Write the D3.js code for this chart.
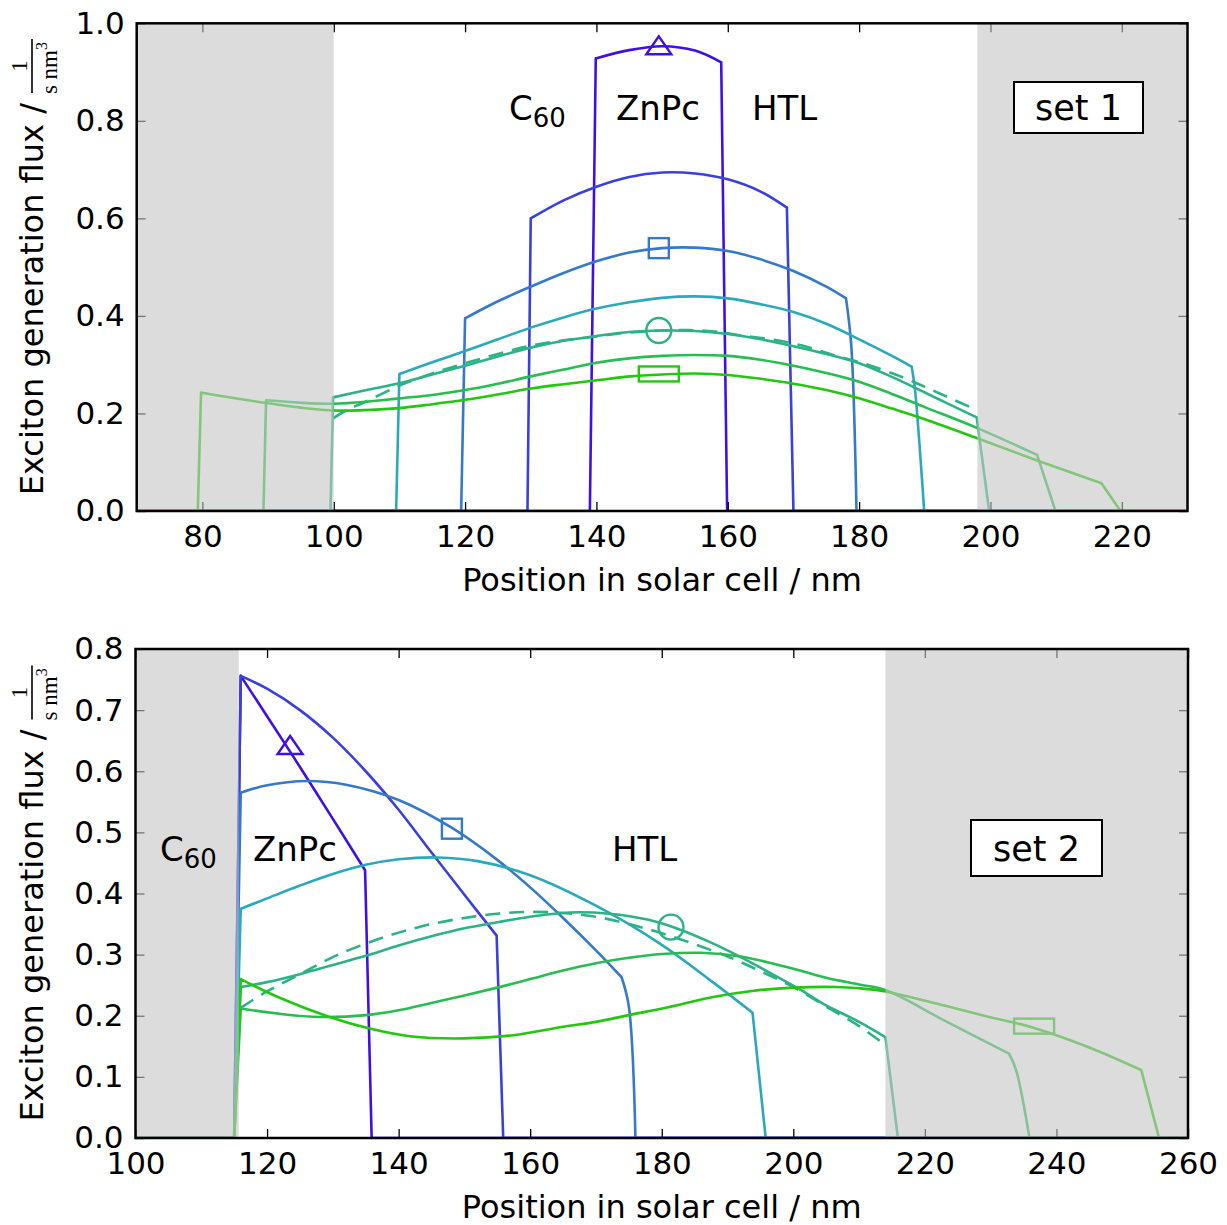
<!DOCTYPE html>
<html>
<head>
<meta charset="utf-8">
<script src="https://cdn.jsdelivr.net/npm/d3@7"></script>
<style>
  body { margin: 0; background: #fff; }
  svg { display: block; }
  text { font-family: "DejaVu Sans", sans-serif; }
</style>
</head>
<body>
<svg id="chart" width="1227" height="1225"></svg>
<script>
// ---- data: [position nm, flux] ----
const lineColors = ['#3f10e6', '#3a40da', '#3579c9', '#2aa9bb', '#2bb386', '#27bd50', '#22c70e'];

const set1Curve1 = [[70,0],[139,0],[139.9,0.928],[145,0.945],[150,0.953],[155,0.944],[159,0.92],[159.9,0],[230,0]];
const set1Curve2 = [[70,0],[129.5,0],[130,0.60],[135,0.637],[140,0.665],[145,0.685],[150,0.694],[155,0.692],[160,0.68],[165,0.655],[169,0.622],[170,0],[230,0]];
const set1Curve3 = [[70,0],[119.4,0],[120,0.395],[125,0.43],[130,0.46],[135,0.488],[140,0.512],[145,0.53],[150,0.539],[155,0.54],[160,0.533],[165,0.516],[170,0.492],[175,0.46],[178,0.436],[178.8,0.34],[179.6,0],[230,0]];
const set1Curve4 = [[70,0],[109.5,0],[110,0.281],[115,0.305],[120,0.328],[125,0.352],[130,0.376],[135,0.397],[140,0.415],[145,0.428],[150,0.437],[155,0.44],[160,0.436],[165,0.424],[170,0.408],[175,0.384],[180,0.352],[185,0.318],[188,0.296],[188.5,0.25],[189.9,0],[230,0]];
const set1Curve5 = [[70,0],[99.5,0],[99.9,0.233],[105,0.248],[110,0.262],[115,0.28],[120,0.298],[125,0.317],[130,0.335],[135,0.349],[140,0.359],[145,0.367],[150,0.37],[155,0.369],[160,0.363],[165,0.352],[170,0.338],[175,0.322],[180,0.303],[185,0.275],[190,0.243],[194,0.217],[197.9,0.192],[199.8,0],[230,0]];
const set1Dashed = [[99.9,0.19],[102,0.207],[104.5,0.222],[110,0.257],[115,0.282],[120,0.303],[125,0.322],[130,0.339],[135,0.35],[140,0.358],[145,0.366],[150,0.37],[154,0.371],[158,0.368],[162,0.36],[167,0.351],[172,0.337],[176,0.32],[180.6,0.303],[186.5,0.275],[191.1,0.248],[195.6,0.221],[198,0.207]];
const set1Curve6 = [[70,0],[89.3,0],[89.7,0.227],[95,0.222],[100,0.22],[105,0.224],[110,0.231],[115,0.238],[120,0.248],[125,0.261],[130,0.276],[135,0.29],[140,0.304],[145,0.313],[150,0.318],[155,0.32],[160,0.318],[165,0.31],[170,0.298],[175,0.283],[180,0.265],[185,0.24],[190,0.213],[198,0.17],[207.1,0.115],[209.9,0],[230,0]];
const set1Curve7 = [[70,0],[79.3,0],[79.8,0.243],[85,0.231],[90,0.221],[95,0.212],[100,0.206],[105,0.207],[110,0.211],[115,0.219],[120,0.228],[125,0.239],[130,0.251],[135,0.26],[140,0.268],[145,0.276],[150,0.28],[155,0.282],[160,0.279],[165,0.271],[170,0.261],[175,0.248],[180,0.231],[185,0.21],[190,0.188],[198,0.149],[207,0.104],[216.9,0.057],[219.8,0],[230,0]];

const set2Curve1 = [[100,0],[115,0],[116,0.756],[120,0.69],[125,0.607],[130,0.522],[134.9,0.438],[135.9,0],[260,0]];
const set2Curve2 = [[100,0],[115,0],[116,0.756],[120,0.735],[125,0.70],[130,0.655],[135,0.60],[140,0.537],[145,0.467],[150,0.398],[154.9,0.331],[155.9,0],[260,0]];
const set2Curve3 = [[100,0],[115,0],[116,0.565],[120,0.577],[126,0.584],[132,0.578],[140,0.553],[148,0.508],[155,0.455],[160,0.41],[165,0.36],[170,0.307],[173.9,0.263],[175,0.215],[176,0],[260,0]];
const set2Curve4 = [[100,0],[115,0],[116,0.375],[120,0.392],[125,0.413],[130,0.432],[135,0.447],[140,0.456],[146,0.459],[152,0.453],[160,0.43],[170,0.38],[180,0.316],[188,0.253],[193.8,0.205],[195.8,0],[260,0]];
const set2Curve5 = [[100,0],[115,0],[116,0.247],[120,0.255],[125,0.268],[130,0.283],[135,0.298],[140,0.315],[145,0.33],[150,0.343],[155,0.353],[160,0.362],[166,0.369],[172,0.367],[178,0.357],[182,0.344],[187,0.322],[192,0.296],[197,0.267],[201,0.243],[205,0.217],[210,0.19],[214,0.165],[215.9,0],[260,0]];
const set2Dashed = [[116,0.213],[120,0.24],[125,0.268],[130,0.296],[135,0.318],[140,0.336],[145,0.35],[150,0.36],[155,0.367],[160,0.37],[165,0.368],[170,0.362],[175,0.35],[180,0.335],[185,0.317],[190,0.297],[195,0.273],[200,0.247],[205,0.215],[210,0.183],[214,0.152]];
const set2Curve6 = [[100,0],[115,0],[116,0.212],[122,0.203],[128,0.198],[135,0.201],[140,0.209],[145,0.221],[150,0.233],[155,0.246],[160,0.26],[165,0.274],[170,0.286],[175,0.295],[180,0.301],[186,0.303],[192,0.297],[197,0.285],[201,0.274],[205,0.262],[210,0.251],[214,0.242],[223,0.192],[232.8,0.138],[233.9,0.11],[235.9,0],[260,0]];
const set2Curve7 = [[100,0],[115,0],[116,0.26],[122,0.229],[129.5,0.198],[135.6,0.179],[142,0.166],[150,0.163],[157.4,0.168],[165,0.182],[170,0.19],[175,0.201],[181,0.214],[188,0.231],[194,0.241],[200,0.246],[206.6,0.247],[210,0.245],[213.8,0.24],[222.8,0.217],[229,0.2],[236.6,0.18],[245,0.148],[252.9,0.111],[255.6,0],[260,0]];

// markers: [x, y, shape, colour index]
const set1Markers = [[149.5,0.955,'triangle',0],[149.5,0.539,'square',2],[149.5,0.37,'circle',4],[149.5,0.281,'rect',6]];
const set2Markers = [[123.5,0.643,'triangle',0],[148.1,0.506,'square',2],[181.4,0.345,'circle',4],[236.6,0.183,'rect',6]];

// shaded layers (outside the simulated stack)
const set1Shaded = [[70,100],[198,230]];
const set2Shaded = [[100,115.7],[214,260]];

const set1XTicks = [80,100,120,140,160,180,200,220];
const set1YTicks = [0,0.2,0.4,0.6,0.8,1.0];
const set2XTicks = [100,120,140,160,180,200,220,240,260];
const set2YTicks = [0,0.1,0.2,0.3,0.4,0.5,0.6,0.7,0.8];

const layerNames = ['C', 'ZnPc', 'HTL'];

const svg = d3.select('#chart');
const FONT = '"DejaVu Sans", sans-serif';

// split a series at sharp corners so jumps stay straight and the rest stays smooth
function splitAtCorners(pts, x, y) {
  const px = pts.map(d => [x(d[0]), y(d[1])]);
  const runs = [];
  let run = [pts[0]];
  for (let i = 1; i < pts.length; i++) {
    run.push(pts[i]);
    if (i < pts.length - 1) {
      const a1 = Math.atan2(px[i][1] - px[i - 1][1], px[i][0] - px[i - 1][0]);
      const a2 = Math.atan2(px[i + 1][1] - px[i][1], px[i + 1][0] - px[i][0]);
      let diff = Math.abs(a2 - a1) * 180 / Math.PI;
      if (diff > 180) diff = 360 - diff;
      if (diff > 25) {
        runs.push(run);
        run = [pts[i]];
      }
    }
  }
  runs.push(run);
  return runs;
}

function drawMarker(g, shape, cx, cy, color) {
  const common = s => s.attr('fill', 'none').attr('stroke', color).attr('stroke-width', 2.4);
  if (shape === 'triangle') {
    g.append('path').attr('d', `M${cx},${cy - 9}L${cx - 12.5},${cy + 9}L${cx + 12.5},${cy + 9}Z`).call(common);
  } else if (shape === 'square') {
    g.append('rect').attr('x', cx - 10).attr('y', cy - 10).attr('width', 20).attr('height', 20).call(common);
  } else if (shape === 'circle') {
    g.append('circle').attr('cx', cx).attr('cy', cy).attr('r', 12.5).call(common);
  } else {
    g.append('rect').attr('x', cx - 20).attr('y', cy - 7.5).attr('width', 40).attr('height', 15).call(common);
  }
}

function yLabel(cx, cy) {
  const g = svg.append('g').attr('transform', `translate(${cx},${cy}) rotate(-90)`);
  const main = g.append('text').attr('font-size', 32).attr('y', 10).text('Exciton generation flux /');
  const mainLen = main.node().getComputedTextLength();
  const fracW = 54, gap = 10;
  const x0 = -(mainLen + gap + fracW) / 2;
  main.attr('x', x0);
  const fx = x0 + mainLen + gap;
  g.append('line').attr('x1', fx).attr('x2', fx + fracW).attr('y1', -1).attr('y2', -1)
    .attr('stroke', '#000').attr('stroke-width', 1.6);
  g.append('text').attr('x', fx + fracW / 2).attr('y', -6).attr('text-anchor', 'middle')
    .style('font-family', '"Liberation Serif", serif').attr('font-size', 23).text('1');
  const den = g.append('text').attr('x', fx + fracW / 2 - 2).attr('y', 24).attr('text-anchor', 'middle')
    .style('font-family', '"Liberation Serif", serif').attr('font-size', 23);
  den.append('tspan').text('s nm');
  den.append('tspan').attr('dy', -10).attr('font-size', 16).text('3');
}

function drawPanel(p) {
  const x = d3.scaleLinear().domain(p.xDomain).range(p.xRange);
  const y = d3.scaleLinear().domain(p.yDomain).range(p.yRange);
  const [x0, x1] = p.xRange, [y0, y1] = p.yRange;

  const clipId = 'clip-' + p.id;
  svg.append('clipPath').attr('id', clipId).append('rect')
    .attr('x', x0).attr('y', y1).attr('width', x1 - x0).attr('height', y0 - y1);

  const line = d3.line().x(d => x(d[0])).y(d => y(d[1])).curve(d3.curveCatmullRom.alpha(0.5));
  const plot = svg.append('g').attr('clip-path', `url(#${clipId})`);

  const drawSeries = (pts, color, dashed) => {
    const d = dashed ? line(pts) : splitAtCorners(pts, x, y).map(r => line(r)).join('');
    const path = plot.append('path').attr('d', d)
      .attr('fill', 'none').attr('stroke', color)
      .attr('stroke-width', 2.6).attr('stroke-linejoin', 'round').attr('stroke-linecap', 'round');
    if (dashed) path.attr('stroke-dasharray', '15,9').attr('stroke-linecap', 'butt');
  };

  p.curves.forEach((c, i) => {
    drawSeries(c, lineColors[i], false);
    if (i === 4) drawSeries(p.dashed, lineColors[4], true);
  });

  p.markers.forEach(m => drawMarker(plot, m[2], x(m[0]), y(m[1]), lineColors[m[3]]));

  // ticks on all four sides, pointing inwards
  const styleAxis = a => {
    a.select('.domain').remove();
    a.attr('font-size', 31).attr('font-family', FONT);
    a.selectAll('.tick line').attr('stroke', '#000').attr('stroke-width', 1.3);
    a.selectAll('.tick text').attr('fill', '#000');
  };
  svg.append('g').attr('transform', `translate(0,${y0})`)
    .call(d3.axisBottom(x).tickValues(p.xTicks).tickSizeInner(-9).tickSizeOuter(0).tickPadding(14).tickFormat(d3.format('d')))
    .call(styleAxis);
  svg.append('g').attr('transform', `translate(0,${y1})`)
    .call(d3.axisTop(x).tickValues(p.xTicks).tickSizeInner(-9).tickSizeOuter(0).tickFormat(''))
    .call(styleAxis);
  svg.append('g').attr('transform', `translate(${x0},0)`)
    .call(d3.axisLeft(y).tickValues(p.yTicks).tickSizeInner(-9).tickSizeOuter(0).tickPadding(12).tickFormat(d3.format('.1f')))
    .call(styleAxis);
  svg.append('g').attr('transform', `translate(${x1},0)`)
    .call(d3.axisRight(y).tickValues(p.yTicks).tickSizeInner(-9).tickSizeOuter(0).tickFormat(''))
    .call(styleAxis);

  // grey layers drawn over lines and ticks
  p.shaded.forEach(s => {
    svg.append('rect')
      .attr('x', x(s[0])).attr('y', y1)
      .attr('width', x(s[1]) - x(s[0])).attr('height', y0 - y1)
      .attr('fill', '#c4c4c4').attr('fill-opacity', 0.6);
  });

  // layer names
  const c60 = svg.append('text').attr('x', p.labelX[0]).attr('y', p.labelY).attr('font-size', 34);
  c60.append('tspan').text(layerNames[0]);
  c60.append('tspan').attr('dy', 7).attr('font-size', 26).text('60');
  svg.append('text').attr('x', p.labelX[1]).attr('y', p.labelY).attr('font-size', 34).text(layerNames[1]);
  svg.append('text').attr('x', p.labelX[2]).attr('y', p.labelY).attr('font-size', 34).text(layerNames[2]);

  // frame
  svg.append('rect').attr('x', x0).attr('y', y1).attr('width', x1 - x0).attr('height', y0 - y1)
    .attr('fill', 'none').attr('stroke', '#000').attr('stroke-width', 2.5);

  // set box
  const b = p.box;
  svg.append('rect').attr('x', b[0]).attr('y', b[1]).attr('width', b[2]).attr('height', b[3])
    .attr('fill', '#fff').attr('stroke', '#000').attr('stroke-width', 2);
  svg.append('text').attr('x', b[0] + b[2] / 2).attr('y', b[1] + b[3] / 2 + 12.5)
    .attr('text-anchor', 'middle').attr('font-size', 35).text(p.setName);

  // axis labels
  svg.append('text').attr('x', (x0 + x1) / 2).attr('y', p.xLabelY).attr('text-anchor', 'middle')
    .attr('font-size', 32).text('Position in solar cell / nm');
  yLabel(33, (y0 + y1) / 2);
}

drawPanel({
  id: 'set1', setName: 'set 1',
  xDomain: [70, 230], xRange: [136.7, 1187.5],
  yDomain: [0, 1], yRange: [511, 23.3],
  curves: [set1Curve1, set1Curve2, set1Curve3, set1Curve4, set1Curve5, set1Curve6, set1Curve7],
  dashed: set1Dashed, markers: set1Markers, shaded: set1Shaded,
  xTicks: set1XTicks, yTicks: set1YTicks,
  labelX: [509, 616, 752], labelY: 120,
  box: [1014, 82, 129, 51], xLabelY: 591
});

drawPanel({
  id: 'set2', setName: 'set 2',
  xDomain: [100, 260], xRange: [135.5, 1188],
  yDomain: [0, 0.8], yRange: [1138, 649],
  curves: [set2Curve1, set2Curve2, set2Curve3, set2Curve4, set2Curve5, set2Curve6, set2Curve7],
  dashed: set2Dashed, markers: set2Markers, shaded: set2Shaded,
  xTicks: set2XTicks, yTicks: set2YTicks,
  labelX: [160, 253, 612], labelY: 861,
  box: [971, 820, 131, 56], xLabelY: 1218
});
</script>
</body>
</html>
